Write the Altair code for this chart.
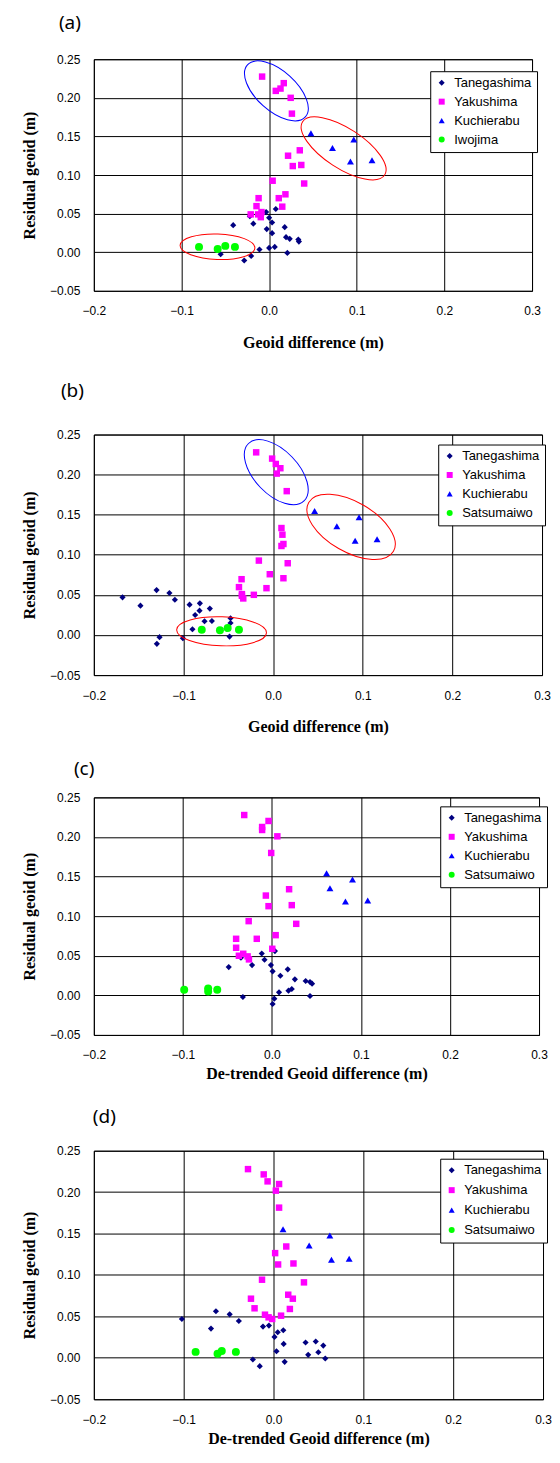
import altair as alt
import pandas as pd

# ---------------- series meta ----------------
SITES_A = ["Tanegashima", "Yakushima", "Kuchierabu", "Iwojima"]
SITES = ["Tanegashima", "Yakushima", "Kuchierabu", "Satsumaiwo"]
COLORS = ["#000080", "#FF00FF", "#0000FF", "#00FF00"]
SHAPES = ["diamond", "square", "triangle-up", "circle"]
SIZES = [38, 42, 48, 64]

X_TICKS = [-0.2, -0.1, 0.0, 0.1, 0.2, 0.3]
Y_TICKS = [-0.05, 0.0, 0.05, 0.10, 0.15, 0.20, 0.25]

# ---------------- panel (a) ----------------
a_tane_x = [-0.0034, 0.0076, -0.022, 0.0, 0.0034, -0.018, -0.041, -0.0027, 0.0178, 0.0034, 0.0193,
            0.0235, 0.0333, 0.034, -0.011, 0.0, 0.0064, 0.0208, -0.0553, -0.0205, -0.0284]
a_tane_y = [0.052, 0.056, 0.0467, 0.0446, 0.0385, 0.037, 0.035, 0.030, 0.0324, 0.0247, 0.0195,
            0.0173, 0.0164, 0.0138, 0.0035, 0.0056, 0.0069, -0.0009, -0.0026, -0.0048, -0.0108]
a_yaku_x = [-0.008, 0.0167, 0.013, 0.0076, 0.0246, 0.026, 0.035, 0.0216, 0.0367, 0.027, 0.040,
            0.004, 0.0186, 0.011, 0.015, -0.012, -0.0144, -0.021, -0.0125, -0.0087, -0.0095]
a_yaku_y = [0.2275, 0.219, 0.212, 0.209, 0.200, 0.1795, 0.132, 0.125, 0.113, 0.1116, 0.089,
            0.0926, 0.075, 0.070, 0.059, 0.070, 0.0597, 0.049, 0.049, 0.052, 0.0454]
a_kuch_x = [0.0477, 0.0966, 0.0723, 0.0928, 0.1174]
a_kuch_y = [0.154, 0.146, 0.135, 0.1176, 0.119]
a_iwo_x = [-0.080, -0.0587, -0.050, -0.039]
a_iwo_y = [0.0069, 0.0043, 0.0082, 0.0069]

# ---------------- panel (b) ----------------
b_tane_x = [-0.168, -0.148, -0.130, -0.1157, -0.1096, -0.0932, -0.0817, -0.0821, -0.087, -0.0706, -0.0765,
            -0.0683, -0.090, -0.0475, -0.0475, -0.0486, -0.1007, -0.1267, -0.1297, -0.060, -0.052]
b_tane_y = [0.047, 0.0366, 0.056, 0.0524, 0.044, 0.0378, 0.0395, 0.0304, 0.025, 0.0329, 0.0171,
            0.0175, 0.0072, 0.0209, 0.015, -0.002, -0.004, -0.0027, -0.011, 0.006, 0.008]
b_yaku_x = [-0.0189, -0.0011, 0.003, 0.0081, 0.0041, 0.0152, 0.0093, 0.0104, 0.0115, 0.0093, 0.0163,
            0.0115, -0.0159, -0.0037, -0.0074, -0.0352, -0.0381, -0.0348, -0.0333, -0.0348, -0.0215]
b_yaku_y = [0.2278, 0.220, 0.2133, 0.208, 0.2013, 0.1794, 0.1334, 0.1251, 0.1135, 0.111, 0.0895,
            0.0708, 0.0928, 0.0758, 0.0584, 0.0696, 0.0597, 0.051, 0.0456, 0.0489, 0.0501]
b_kuch_x = [0.0463, 0.0711, 0.0959, 0.0915, 0.1160]
b_kuch_y = [0.1545, 0.1355, 0.147, 0.1176, 0.1193]
b_sats_x = [-0.0796, -0.0593, -0.0507, -0.0381]
b_sats_y = [0.0066, 0.0058, 0.0087, 0.0066]

# ---------------- panel (c) ----------------
c_tane_x = [0.0034, -0.0348, -0.0114, -0.0083, -0.0011, -0.0223, -0.0485, 0.0008, 0.0178, 0.0095, 0.0258,
            0.0379, 0.0428, 0.0451, 0.0223, 0.0186, 0.008, -0.0326, 0.0428, 0.0027, 0.0008]
c_tane_y = [0.0559, 0.0475, 0.0529, 0.045, 0.0382, 0.0382, 0.0357, 0.0303, 0.0328, 0.0248, 0.0202,
            0.0181, 0.0168, 0.0147, 0.008, 0.0059, 0.0038, -0.0021, -0.0008, -0.0042, -0.0109]
c_yaku_x = [-0.0311, -0.0038, -0.011, -0.011, 0.0061, -0.0008, 0.0193, -0.0068, 0.0223, -0.0038, 0.0273,
            -0.0261, 0.0042, -0.017, -0.0402, -0.0402, 0.0004, -0.0371, -0.0322, -0.0273, -0.0258]
c_yaku_y = [0.2277, 0.2202, 0.2126, 0.2088, 0.2008, 0.1798, 0.134, 0.126, 0.1139, 0.1126, 0.0903,
            0.0937, 0.076, 0.0714, 0.0714, 0.0601, 0.0588, 0.05, 0.0525, 0.0492, 0.0454]
c_kuch_x = [0.0614, 0.0905, 0.0652, 0.0826, 0.1076]
c_kuch_y = [0.1542, 0.1462, 0.1353, 0.1185, 0.1197]
c_sats_x = [-0.0985, -0.0716, -0.0716, -0.0614]
c_sats_y = [0.0071, 0.0088, 0.005, 0.0071]

# ---------------- panel (d) ----------------
d_tane_x = [-0.102, -0.0641, -0.0488, -0.0386, -0.0696, -0.0117, -0.0051, 0.0047, 0.0109, 0.0011, 0.0113,
            0.0357, 0.047, 0.0554, 0.0499, 0.0386, 0.0576, 0.0033, 0.0124, -0.023, -0.0153]
d_tane_y = [0.0469, 0.0562, 0.0525, 0.0445, 0.0353, 0.0377, 0.0389, 0.0309, 0.0333, 0.0253, 0.0168,
            0.0185, 0.0197, 0.0148, 0.0068, 0.0036, -0.0008, 0.008, -0.0048, -0.002, -0.010]
d_yaku_x = [-0.0284, -0.0109, -0.0066, 0.0062, 0.0026, 0.0062, 0.0142, 0.0018, 0.0051, 0.0222, 0.0339,
            -0.0128, 0.0164, 0.0215, 0.0182, -0.0251, -0.0211, -0.0095, -0.0055, -0.0015, 0.0084]
d_yaku_y = [0.2278, 0.2214, 0.213, 0.2098, 0.2018, 0.1813, 0.1344, 0.1264, 0.1127, 0.1139, 0.0911,
            0.0943, 0.0762, 0.0714, 0.059, 0.0714, 0.0598, 0.0521, 0.0489, 0.0469, 0.0509]
d_kuch_x = [0.0106, 0.0627, 0.0397, 0.0645, 0.0842]
d_kuch_y = [0.1552, 0.1476, 0.1356, 0.1183, 0.1195]
d_sats_x = [-0.0867, -0.0623, -0.0576, -0.0419]
d_sats_y = [0.0072, 0.0048, 0.0084, 0.0072]

# ---------------- ellipse annotations (centre in data units) ----------------
ell_a_cx = [0.0083, 0.085, -0.0589]
ell_a_cy = [0.209, 0.1345, 0.0071]
ell_a_col = ["#0000FF", "#FF0000", "#FF0000"]
ell_a_geom = [(39, 20, 42), (49, 20, 33), (37.5, 12.8, 2)]   # semi-major px, semi-minor px, tilt deg

ell_b_cx = [0.0035, 0.087, -0.0575]
ell_b_cy = [0.203, 0.1348, 0.0046]
ell_b_col = ["#0000FF", "#FF0000", "#FF0000"]
ell_b_geom = [(40, 22, 46), (49, 25, 30), (45, 14.5, 2)]


def ellipse_path(ratio):
    k = 0.5523
    r = ratio
    return (f"M 1 0 C 1 {k*r:.4f} {k} {r:.4f} 0 {r:.4f} "
            f"C {-k} {r:.4f} -1 {k*r:.4f} -1 0 "
            f"C -1 {-k*r:.4f} {-k} {-r:.4f} 0 {-r:.4f} "
            f"C {k} {-r:.4f} 1 {-k*r:.4f} 1 0 Z")


def panel(label, series, names, width, height, xtitle, leg, title_dx, title_off,
          x_tpad, row_pad, ell=None):
    rows = []
    for i, (xs, ys) in enumerate(series):
        for x, y in zip(xs, ys):
            rows.append({"x": x, "y": y, "site": names[i], "sz": SIZES[i]})
    df = pd.DataFrame(rows)

    xenc = alt.X("x:Q", scale=alt.Scale(domain=[-0.2, 0.3], nice=False, zero=False),
                 axis=alt.Axis(values=X_TICKS, format=".1f", title=xtitle, grid=True,
                               gridColor="black", gridWidth=1, gridOpacity=1, ticks=False,
                               tickSize=0, domain=False, labelFont="Liberation Sans",
                               labelFontSize=12, labelColor="black", labelPadding=15,
                               labelFlush=False, titleFont="Liberation Serif",
                               titleFontSize=16, titleFontWeight="bold", titleColor="black",
                               titlePadding=x_tpad))
    yenc = alt.Y("y:Q", scale=alt.Scale(domain=[-0.05, 0.25], nice=False, zero=False),
                 axis=alt.Axis(values=Y_TICKS, format=".2f", title="Residual geoid (m)",
                               grid=True, gridColor="black", gridWidth=1, gridOpacity=1,
                               ticks=False, tickSize=0, domain=False,
                               labelFont="Liberation Sans", labelFontSize=12,
                               labelColor="black", labelPadding=14, labelFlush=False,
                               titleFont="Liberation Serif", titleFontSize=16,
                               titleFontWeight="bold", titleColor="black",
                               titlePadding=11.7))
    legend = alt.Legend(orient="none", legendX=leg[0], legendY=leg[1], title=None,
                        fillColor="white", strokeColor="black", padding=5,
                        labelFont="Liberation Sans", labelFontSize=13, labelColor="black",
                        rowPadding=row_pad, symbolSize=36, labelOffset=6,
                        symbolStrokeWidth=0, cornerRadius=0)
    pts = alt.Chart(df).mark_point(filled=True, opacity=1, strokeWidth=0).encode(
        x=xenc, y=yenc,
        color=alt.Color("site:N", scale=alt.Scale(domain=names, range=COLORS), legend=legend),
        shape=alt.Shape("site:N", scale=alt.Scale(domain=names, range=SHAPES), legend=legend),
        size=alt.Size("sz:Q", scale=None),
    )
    layers = [pts]
    if ell is not None:
        cxs, cys, cols, geoms = ell
        erows = []
        for cx, cy, col, (a, b, ang) in zip(cxs, cys, cols, geoms):
            erows.append({"x": cx, "y": cy, "col": col, "path": ellipse_path(b / a),
                          "esz": 4 * a * a, "ang": ang})
        edf = pd.DataFrame(erows)
        ells = alt.Chart(edf).mark_point(filled=False, opacity=1, strokeWidth=1).encode(
            x=xenc, y=yenc,
            shape=alt.Shape("path:N", scale=None),
            size=alt.Size("esz:Q", scale=None),
            angle=alt.Angle("ang:Q", scale=None),
            stroke=alt.Stroke("col:N", scale=None),
        )
        layers.append(ells)
    ch = alt.layer(*layers).properties(
        width=width, height=height,
        title=alt.TitleParams(label, anchor="start", frame="group", dx=title_dx,
                              offset=title_off, fontSize=19, font="Noto Sans",
                              fontWeight="normal", color="black"),
    )
    return ch


pa = panel("(a)", [(a_tane_x, a_tane_y), (a_yaku_x, a_yaku_y), (a_kuch_x, a_kuch_y), (a_iwo_x, a_iwo_y)],
           SITES_A, 439, 232, "Geoid difference (m)", (337, 12), -35, 20, 18, 5,
           (ell_a_cx, ell_a_cy, ell_a_col, ell_a_geom))
pb = panel("(b)", [(b_tane_x, b_tane_y), (b_yaku_x, b_yaku_y), (b_kuch_x, b_kuch_y), (b_sats_x, b_sats_y)],
           SITES, 449, 241, "Geoid difference (m)", (345, 10), -33, 28, 18, 5,
           (ell_b_cx, ell_b_cy, ell_b_col, ell_b_geom))
pc = panel("(c)", [(c_tane_x, c_tane_y), (c_yaku_x, c_yaku_y), (c_kuch_x, c_kuch_y), (c_sats_x, c_sats_y)],
           SITES, 446, 238, "De-trended Geoid difference (m)", (347, 9), -20, 12.5, 5, 5)
pd_ = panel("(d)", [(d_tane_x, d_tane_y), (d_yaku_x, d_yaku_y), (d_kuch_x, d_kuch_y), (d_sats_x, d_sats_y)],
            SITES, 450, 249, "De-trended Geoid difference (m)", (347, 8), -1, 18, 5, 6)

RES = dict(color="independent", shape="independent")
top = alt.vconcat(pa, pb, spacing=29).resolve_scale(**RES)
bottom = alt.vconcat(pc, pd_, spacing=24).resolve_scale(**RES)
chart = alt.vconcat(top, bottom, spacing=23.5).resolve_scale(
    **RES
).properties(
    padding={"left": 13, "top": 4, "right": 0, "bottom": 0},
    background="white",
).configure_view(stroke="black", strokeWidth=1)

chart.save("out.html", embed_options={"renderer": "svg", "actions": False})
